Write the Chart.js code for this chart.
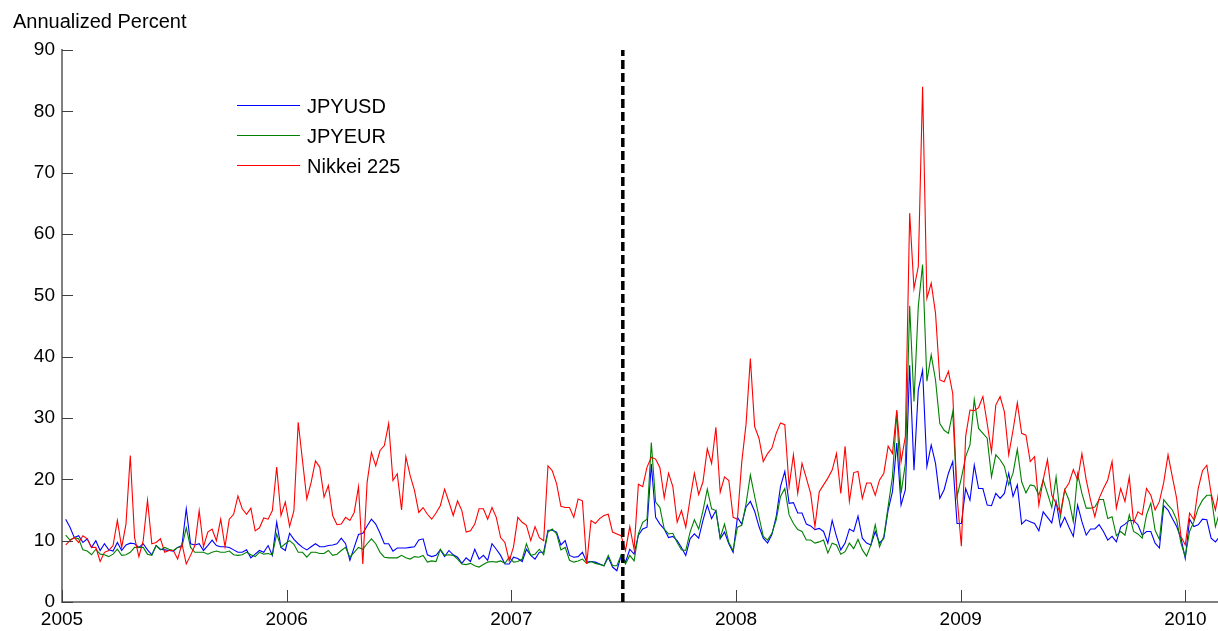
<!DOCTYPE html>
<html>
<head>
<meta charset="utf-8">
<script src="https://cdn.jsdelivr.net/npm/chart.js@4"></script>
<style>
html,body{margin:0;padding:0;background:#fff;}
#wrap{position:relative;width:1218px;height:631px;overflow:hidden;}
#c{position:absolute;left:0;top:0;}
.txt{position:absolute;font-family:"Liberation Sans",Arial,sans-serif;font-size:20px;line-height:20px;color:#000;white-space:nowrap;}
</style>
</head>
<body>
<div id="wrap">
<canvas id="c" width="1218" height="631"></canvas>
<div class="txt" id="ytitle" style="left:13px;top:11px;">Annualized Percent</div>
<div id="legend"></div>
</div>
<script>
// ---- data (weekly observations, first week ending 7 Jan 2005) ----
const firstWeek = 2005 + 6 / 365.25;
const weekStep = 7 / 365.25;
const breakDate = 2007.496;          // vertical dashed line
const yTickValues = [0,10,20,30,40,50,60,70,80,90];
const xTickYears = [2005,2006,2007,2008,2009,2010];
const seriesLabels = ["JPYUSD","JPYEUR","Nikkei 225"];

const jpyusd = [
13.5,12.2,10.5,10.8,9.7,10.3,8.9,10.0,8.4,9.5,
8.5,8.3,9.7,8.4,9.3,9.6,9.5,8.9,9.5,8.5,
7.7,9.2,8.6,8.5,8.4,8.3,8.9,9.2,15.2,9.5,
9.3,9.5,8.4,9.2,10.1,9.2,9.0,9.0,8.9,8.5,
8.1,8.1,8.5,7.2,7.8,8.4,8.1,9.2,7.6,13.0,
8.9,8.4,11.2,10.2,9.5,8.9,8.5,9.0,9.5,9.0,
9.0,9.2,9.3,9.5,10.4,9.5,6.8,8.9,11.0,11.2,
12.4,13.5,12.7,11.2,9.5,9.5,8.3,8.8,8.8,8.8,
8.9,9.0,10.1,10.3,7.7,7.4,7.6,8.5,7.4,8.4,
7.7,7.3,6.3,7.2,6.6,8.6,7.0,7.6,6.8,9.5,
8.6,7.6,6.2,6.2,7.3,7.1,6.6,8.6,7.6,7.0,
8.1,8.1,11.7,11.7,11.4,9.3,10.0,7.6,7.3,7.4,
8.1,6.5,6.6,6.5,6.2,5.9,7.3,5.7,5.1,7.6,
6.5,8.6,7.8,10.9,11.9,12.2,22.5,13.8,12.7,11.9,
10.5,10.7,10.0,8.9,7.6,10.3,11.1,10.4,13.3,15.8,
13.6,14.9,10.3,11.4,9.5,8.1,13.8,12.7,15.5,16.4,
14.8,12.3,10.4,9.6,11.0,13.9,18.8,21.3,16.1,16.2,
14.5,14.5,12.7,12.4,11.8,12.0,11.5,9.6,13.3,10.7,
8.5,9.6,11.9,11.5,14.0,10.4,9.6,9.3,11.5,9.6,
10.4,15.0,18.0,25.9,15.8,18.3,38.6,21.5,34.6,37.8,
22.1,25.6,22.6,16.9,18.3,21.0,22.9,12.8,12.8,18.5,
16.6,22.3,18.5,18.5,15.8,15.7,17.7,16.9,17.7,21.0,
17.2,19.1,12.7,13.4,13.1,12.8,11.6,14.7,13.8,12.9,
16.4,12.3,13.8,12.2,10.7,15.8,13.1,10.9,11.9,11.9,
12.6,11.5,10.1,10.7,9.8,12.2,12.7,13.3,13.3,12.6,
10.9,11.5,11.5,9.6,8.8,15.7,15.0,13.6,12.3,10.4,
7.1,13.5,12.3,12.6,13.5,13.4,10.4,9.8,10.7
];

const jpyeur = [
10.9,10.1,10.5,10.3,8.5,8.3,7.7,8.6,7.8,7.7,
7.4,7.8,8.6,7.6,7.7,8.1,8.9,8.9,8.9,7.8,
7.6,9.2,8.5,8.9,8.6,8.4,8.9,9.0,12.1,8.9,
8.1,8.1,8.1,7.8,8.1,8.3,8.1,8.1,8.3,7.7,
7.6,7.7,8.1,7.7,7.4,8.1,7.8,7.9,7.7,11.1,
8.9,9.5,10.0,9.4,8.1,8.1,7.3,8.1,8.1,7.9,
7.9,8.4,7.6,7.8,8.4,8.9,7.3,8.1,8.9,8.6,
9.5,10.3,9.5,8.1,7.3,7.2,7.2,7.2,7.6,7.2,
7.0,7.4,7.3,7.6,6.5,6.7,6.6,8.6,7.6,7.7,
7.6,7.0,6.2,6.1,6.3,5.9,5.7,6.1,6.5,6.6,
6.5,6.7,6.3,7.3,6.5,6.6,7.0,9.5,7.6,7.8,
8.6,7.7,11.4,11.9,11.1,8.5,8.9,6.8,6.5,6.7,
7.0,6.3,6.6,6.3,6.1,5.9,7.6,5.9,5.9,7.7,
6.2,7.6,6.7,11.1,13.0,13.5,26.0,16.3,15.4,11.9,
11.1,11.2,9.7,8.5,8.4,11.4,13.4,11.9,14.9,18.4,
15.2,14.9,10.5,12.7,9.7,8.4,12.2,12.5,16.0,20.7,
17.2,13.9,10.7,10.1,11.2,13.4,17.2,18.5,14.2,12.8,
11.8,11.5,10.1,10.1,9.6,9.8,10.1,8.0,9.6,9.3,
7.8,8.2,9.6,8.7,10.2,8.5,7.5,9.3,12.6,9.0,
10.7,15.6,20.4,31.0,17.7,22.6,48.3,32.7,48.2,55.0,
36.0,40.3,36.2,29.1,28.0,27.5,31.0,17.2,20.2,23.7,
25.6,33.0,28.3,27.5,26.7,20.4,24.0,23.2,22.1,19.1,
21.0,24.9,19.6,17.8,19.1,18.9,17.4,19.9,17.7,15.4,
20.4,13.9,18.3,16.6,13.1,20.9,17.7,15.3,15.3,15.5,
16.7,16.7,13.6,13.9,10.8,11.5,10.9,14.2,11.5,11.1,
10.4,14.2,16.1,11.7,10.2,16.7,15.8,15.0,13.4,9.6,
7.4,11.5,13.1,15.3,16.6,17.4,17.4,12.3,14.7
];

const nikkei = [
9.3,10.0,10.5,9.7,10.8,10.3,8.9,8.9,6.6,8.1,
8.4,9.2,13.3,8.9,12.7,23.9,10.5,7.4,10.0,16.6,
9.5,9.7,10.3,8.1,8.4,8.4,7.0,9.5,6.2,7.6,
9.2,14.9,9.0,11.4,11.9,10.0,13.5,9.0,13.5,14.3,
17.3,15.2,14.3,15.3,11.6,12.1,13.7,13.5,14.9,22.0,
14.1,16.3,12.3,14.9,29.3,23.0,16.8,19.5,23.0,22.0,
17.1,19.0,14.1,12.6,12.7,13.8,13.3,14.6,18.8,6.2,
19.5,24.4,22.2,24.7,25.5,29.1,19.8,20.9,15.0,23.7,
20.6,18.2,14.6,15.4,14.3,13.5,14.5,15.7,18.4,16.3,
14.1,16.5,14.9,11.4,11.6,12.7,15.2,15.2,13.5,15.4,
13.8,10.5,9.7,6.7,9.0,13.8,13.0,12.5,10.0,12.3,
10.5,10.0,22.2,21.4,19.3,15.6,15.4,15.4,13.8,16.8,
16.5,6.2,13.3,12.8,13.6,14.1,14.3,11.4,11.1,10.8,
8.4,12.3,8.6,19.2,18.8,22.0,23.6,23.3,21.9,17.0,
21.0,18.8,13.0,14.9,12.2,16.8,21.0,17.5,19.6,25.0,
22.6,28.5,17.9,20.4,19.8,13.8,13.5,22.8,29.0,39.7,
28.6,26.7,22.9,24.2,25.1,27.5,29.2,28.9,18.8,24.0,
17.7,22.6,20.2,17.7,12.3,18.0,19.1,20.2,21.5,24.2,
17.7,25.4,16.4,21.1,21.3,16.9,19.4,19.4,17.4,19.9,
21.0,25.4,24.2,31.3,22.9,27.0,63.4,51.1,54.7,84.0,
49.5,52.0,47.1,36.2,35.9,37.6,34.0,17.2,9.1,27.0,
31.3,31.2,31.7,33.5,29.1,24.5,32.1,33.5,31.0,24.0,
28.0,32.5,27.5,27.2,22.9,23.7,15.8,19.9,23.2,17.4,
16.1,14.5,18.3,19.4,21.6,19.9,24.2,19.9,16.6,13.9,
16.9,18.5,19.9,22.9,15.3,18.5,16.4,20.4,12.9,14.7,
14.2,18.5,17.4,15.0,16.4,19.5,24.0,20.4,16.9,10.7,
9.3,14.5,13.4,18.5,21.4,22.3,17.7,15.0,18.8
];

const seriesColors = ["#0000ff","#008000","#ff0000"];

// ---- build ----
const toPoints = arr => arr.map((v, i) => ({x: firstWeek + i * weekStep, y: v}));
const FONT = '"Liberation Sans", Arial, sans-serif';
Chart.defaults.font.family = FONT;

const LEG_X0 = 237, LEG_X1 = 300, LEG_Y0 = 105, LEG_DY = 30;

const inwardTicks = {
  id: 'inwardTicks',
  afterDraw(chart) {
    const {ctx, chartArea: a, scales: {x, y}} = chart;
    ctx.save();
    ctx.strokeStyle = '#404040';
    ctx.lineWidth = 1;
    yTickValues.forEach(v => {
      const py = Math.round(y.getPixelForValue(v)) + 0.5;
      ctx.beginPath(); ctx.moveTo(a.left, py); ctx.lineTo(a.left + 11, py); ctx.stroke();
    });
    xTickYears.forEach(v => {
      const px = Math.round(x.getPixelForValue(v)) + 0.5;
      ctx.beginPath(); ctx.moveTo(px, a.bottom); ctx.lineTo(px, a.bottom - 12); ctx.stroke();
    });
    // legend swatches, coloured from the datasets
    seriesLabels.forEach((lab, i) => {
      const ds = chart.data.datasets.find(d => d.label === lab);
      const py = LEG_Y0 + LEG_DY * i + 0.5;
      ctx.strokeStyle = ds.borderColor;
      ctx.lineWidth = 1.2;
      ctx.beginPath(); ctx.moveTo(LEG_X0, py); ctx.lineTo(LEG_X1, py); ctx.stroke();
    });
    ctx.restore();
  }
};

const lineDs = (label, data, color, order) => ({
  label, data: toPoints(data), borderColor: color, backgroundColor: color,
  borderWidth: 1.1, pointRadius: 0, tension: 0, fill: false, order
});

const chart = new Chart(document.getElementById('c'), {
  type: 'line',
  data: {
    datasets: [
      lineDs(seriesLabels[0], jpyusd, seriesColors[0], 3),
      lineDs(seriesLabels[1], jpyeur, seriesColors[1], 2),
      lineDs(seriesLabels[2], nikkei, seriesColors[2], 1),
      {
        label: 'break', data: [{x: breakDate, y: yTickValues[0]}, {x: breakDate, y: yTickValues[yTickValues.length - 1]}],
        borderColor: '#000', borderWidth: 3.5, borderDash: [9, 4], pointRadius: 0, fill: false, order: 0
      }
    ]
  },
  options: {
    responsive: false,
    animation: false,
    events: [],
    layout: {padding: {top: 50, left: 0, right: 0, bottom: 0}},
    plugins: {legend: {display: false}, tooltip: {enabled: false}},
    scales: {
      x: {
        type: 'linear', position: 'bottom',
        min: 2005, max: 2010.145,
        afterBuildTicks: s => { s.ticks = xTickYears.map(v => ({value: v})); },
        afterFit: s => { s.height = 29; },
        grid: {display: false, drawTicks: false},
        border: {display: true, color: '#808080', width: 2},
        ticks: {color: '#000', font: {size: 19, family: FONT}, padding: 6, maxRotation: 0, autoSkip: false,
                callback: v => String(v)}
      },
      y: {
        min: 0, max: 90,
        afterBuildTicks: s => { s.ticks = yTickValues.map(v => ({value: v})); },
        afterFit: s => { s.width = 62; },
        grid: {display: false, drawTicks: false},
        border: {display: true, color: '#808080', width: 2},
        ticks: {color: '#000', font: {size: 19, family: FONT}, padding: 7, callback: v => String(v)}
      }
    }
  },
  plugins: [inwardTicks]
});

// ---- legend labels (text) ----
const leg = document.getElementById('legend');
seriesLabels.forEach((lab, i) => {
  const t = document.createElement('div');
  t.className = 'txt';
  t.style.left = '307px';
  t.style.top = (LEG_Y0 + LEG_DY * i - 8.6) + 'px';
  t.textContent = lab;
  leg.appendChild(t);
});
</script>
</body>
</html>
